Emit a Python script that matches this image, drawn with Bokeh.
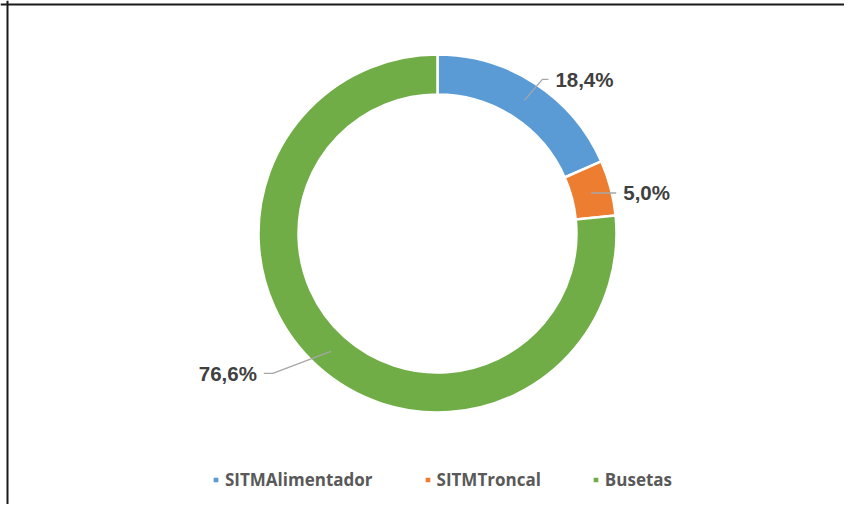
import math
from bokeh.plotting import figure
from bokeh.models import ColumnDataSource, Legend, LegendItem, Span
from bokeh.core.properties import value
from bokeh.embed import file_html
from bokeh.resources import INLINE

categories = ["SITMAlimentador", "SITMTroncal", "Busetas"]
shares = [18.4, 5.0, 76.6]
label_texts = ["18,4%", "5,0%", "76,6%"]
colors = ["#5B9BD5", "#ED7D31", "#70AD47"]

R_OUT, R_IN = 179, 139
# leader elbow offsets (style) relative to anchor point, and text side
leader_style = [
    {"elbow": (18, 21), "end": (24, 21), "align": "left"},
    {"elbow": (25, 0), "end": (25, 0), "align": "left"},
    {"elbow": (-58, -22), "end": (-67, -22), "align": "right"},
]

total = sum(shares)
starts, ends = [], []
a = math.pi / 2
for s in shares:
    starts.append(a)
    a = a - 2 * math.pi * s / total
    ends.append(a)

src = ColumnDataSource(dict(cat=categories, start=starts, end=ends, color=colors))

p = figure(width=844, height=504, output_backend="svg", toolbar_location=None,
           x_range=(-437, 407), y_range=(-271, 233), min_border=0)
p.axis.visible = False
p.grid.visible = False
p.outline_line_color = None
p.background_fill_color = "white"

r = p.annular_wedge(x=0, y=0, inner_radius=R_IN, outer_radius=R_OUT,
                    start_angle="start", end_angle="end", direction="clock",
                    fill_color="color", line_color="white", line_width=2.5, source=src)

for i, s in enumerate(shares):
    mid = (starts[i] + ends[i]) / 2
    rm = (R_IN + R_OUT) / 2
    ax, ay = rm * math.cos(mid), rm * math.sin(mid)
    st = leader_style[i]
    ex, ey = ax + st["elbow"][0], ay + st["elbow"][1]
    tx, ty = ax + st["end"][0], ay + st["end"][1]
    p.line([ax, ex, tx], [ay, ey, ty], line_color="#A6A6A6", line_width=1.3)
    off = 7 if st["align"] == "left" else -7
    p.text([tx + off], [ty], text=[label_texts[i]], text_font=value("Liberation Sans"),
           text_font_style="bold", text_font_size="20.5px", text_color="#404040",
           text_align=st["align"], text_baseline="middle")

items = [LegendItem(label=c, renderers=[r], index=i) for i, c in enumerate(categories)]
legend = Legend(items=items, orientation="horizontal", location=(211, 13),
                label_text_font="Open Sans", label_text_font_style="bold",
                label_text_font_size="17px", label_text_color="#595959",
                glyph_width=9, glyph_height=9, label_standoff=5, spacing=50,
                padding=0, margin=0, border_line_color=None, background_fill_alpha=0,
                label_height=20)
p.add_layout(legend, "center")

p.add_layout(Span(location=-430, dimension="height", line_color="#1a1a1a", line_width=2))
p.add_layout(Span(location=229, dimension="width", line_color="#1a1a1a", line_width=2))

open("out.html", "w").write(file_html(p, INLINE))
